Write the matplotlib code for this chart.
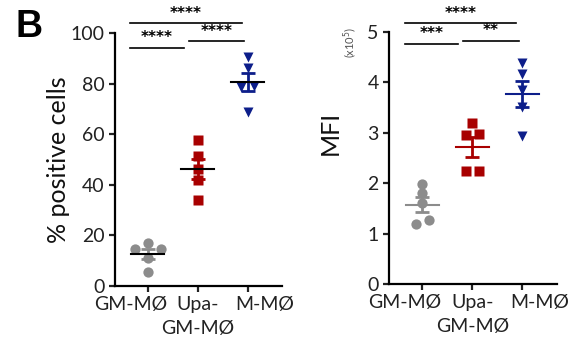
import numpy as np
import matplotlib
matplotlib.use('Agg')
import matplotlib.pyplot as plt
from matplotlib.transforms import ScaledTranslation

plt.rcParams['font.family'] = ['Lato', 'DejaVu Sans']

# data
groups = ['GM-MØ', 'Upa-\nGM-MØ', 'M-MØ']
pos_gm = [16.9, 14.5, 14.5, 11.0, 5.7]
pos_upa = [57.8, 51.2, 46.2, 42.0, 34.0]
pos_m = [90.5, 86.0, 79.2, 78.6, 68.7]
mfi_gm = [1.99, 1.81, 1.61, 1.27, 1.18]
mfi_upa = [3.20, 2.95, 2.97, 2.23, 2.23]
mfi_m = [4.38, 4.16, 3.85, 3.50, 2.93]
pos_stars = [(0, 2, '****'), (0, 1, '****'), (1, 2, '****')]
mfi_stars = [(0, 2, '****'), (0, 1, '***'), (1, 2, '**')]

colors = ['#8c8c8c', '#a80000', '#0d1e8a']
markers = ['o', 's', 'v']
msizes = [7.4, 6.8, 7.0]

fig = plt.figure(figsize=(5.73, 3.43), dpi=100)
W, H = 573, 343


def swarm(vals, tol):
    # group points with near-equal values into rows, spread rows sideways
    order = np.argsort(vals)[::-1]
    rows, cur = [], [order[0]]
    for k in order[1:]:
        if vals[cur[-1]] - vals[k] < tol:
            cur.append(k)
        else:
            rows.append(cur)
            cur = [k]
    rows.append(cur)
    slots = np.zeros(len(vals))
    for r in rows:
        if len(r) == 1:
            continue
        if len(r) == 3:
            for k, s in zip(r, [0, -1, 1]):
                slots[k] = s
        else:
            rr = sorted(r, key=lambda k: vals[k])
            for i, k in enumerate(rr):
                slots[k] = i - (len(r) - 1) / 2
    return slots


def panel(rect, data, ymax, yticks, ylabel, ylab_x, ylab_y, stars, bar_ys, mean_colored):
    ax = fig.add_axes(rect)
    ax.set_xlim(-0.66, 2.69)
    ax.set_ylim(0, ymax)
    ppu_y = rect[3] * H / ymax
    ppu_x = rect[2] * W / 3.35
    step = 13 / ppu_x
    for i, vals in enumerate(data):
        vals = np.array(vals)
        xs = i + swarm(vals, 8 / ppu_y) * step
        ax.plot(xs, vals, ls='none', marker=markers[i], ms=msizes[i],
                color=colors[i], mec='none', zorder=3, clip_on=False)
        m = vals.mean()
        sem = vals.std(ddof=1) / np.sqrt(len(vals))
        ax.errorbar(i, m, yerr=sem, fmt='none', ecolor=colors[i], elinewidth=2,
                    capsize=4.8, capthick=2, zorder=4)
        ax.plot([i - 0.33, i + 0.33], [m, m], lw=1.5,
                color=colors[i] if mean_colored else 'black', zorder=5)
    # significance brackets
    offs = {(0, 2): (-0.35, -0.12), (0, 1): (-0.35, -0.28), (1, 2): (-0.18, -0.07)}
    for (a, b, lab), yb in zip(stars, bar_ys):
        x0 = a + offs[(a, b)][0]
        x1 = b + offs[(a, b)][1]
        ax.plot([x0, x1], [yb, yb], color='black', lw=1.2, clip_on=False)
        ax.text((x0 + x1) / 2, yb + 2.5 / ppu_y, lab, ha='center', va='bottom',
                fontsize=11, fontweight='bold', family='DejaVu Sans',
                clip_on=False)
    for s in ['top', 'right']:
        ax.spines[s].set_visible(False)
    for s in ['left', 'bottom']:
        ax.spines[s].set_linewidth(1.6)
    ax.set_yticks(yticks)
    ax.set_xticks(range(3))
    ax.set_xticklabels(groups)
    ax.tick_params(length=4.5, width=1.6, labelsize=14, pad=3, colors='#222222')
    shifts = [-17, 0, 17]
    for lab, dx in zip(ax.get_xticklabels(), shifts):
        lab.set_linespacing(1.45)
        lab.set_transform(lab.get_transform() +
                          ScaledTranslation(dx / 100, 0, fig.dpi_scale_trans))
    ax.set_ylabel(ylabel, fontsize=18, color='#111111')
    ax.yaxis.set_label_coords(ylab_x, ylab_y)
    return ax


panel([115 / W, 1 - 286 / H, 167 / W, 253 / H], [pos_gm, pos_upa, pos_m],
      100, range(0, 101, 20), '% positive cells', -0.27, 0.5,
      pos_stars, [103.8, 94.2, 96.8], False)
panel([389 / W, 1 - 284 / H, 168 / W, 252.3 / H], [mfi_gm, mfi_upa, mfi_m],
      5, range(0, 6), 'MFI', -0.28, 0.6,
      mfi_stars, [5.17, 4.76, 4.82], True)

fig.text(350 / W, 1 - 42 / H, '(x10$^5$)', rotation=90, ha='center', va='center',
         fontsize=8, color='#555555')
fig.text(15 / W, 1 - 37 / H, 'B', fontsize=27, fontweight='bold',
         family='Liberation Sans', va='baseline')

fig.savefig('out.png', dpi=100)
